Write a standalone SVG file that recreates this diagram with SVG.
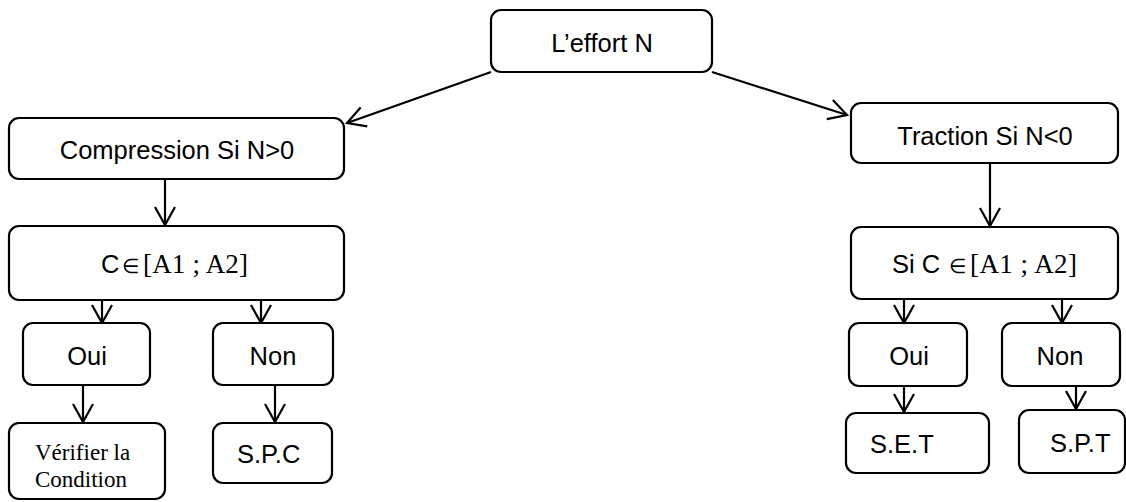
<svg xmlns="http://www.w3.org/2000/svg" width="1126" height="502" viewBox="0 0 1126 502">
  <style>
    .box { fill: #ffffff; stroke: #000000; stroke-width: 2.2; }
    .lbl { font-family: "Liberation Sans", Arial, sans-serif; font-size: 25.5px; fill: #000000; }
    .math { font-family: "Liberation Serif", "Times New Roman", serif; font-size: 27px; }
    .elem { font-size: 20px; }
    .serif { font-family: "Liberation Serif", "Times New Roman", serif; font-size: 23px; fill: #000000; }
    .edge { fill: none; stroke: #000000; stroke-width: 2.2; marker-end: url(#open); }
  </style>
  <defs>
    <!-- open V arrowhead, drawn in user units -->
    <marker id="open" markerUnits="userSpaceOnUse" markerWidth="24" markerHeight="24" viewBox="-21 -12 24 24" refX="0" refY="0" orient="auto" overflow="visible">
      <path d="M-18,-10 L0,0 L-18,10" fill="none" stroke="#000000" stroke-width="2.2" stroke-linejoin="miter"/>
    </marker>
  </defs>
  <rect width="1126" height="502" fill="#ffffff"/>

  <g id="connectors">
    <line class="edge" x1="491" y1="72" x2="347" y2="123"/>
    <line class="edge" x1="712" y1="72" x2="847" y2="115"/>
    <line class="edge" x1="165" y1="179" x2="165" y2="225"/>
    <line class="edge" x1="102" y1="300" x2="102" y2="323"/>
    <line class="edge" x1="261" y1="300" x2="261" y2="323"/>
    <line class="edge" x1="83" y1="385" x2="83" y2="422"/>
    <line class="edge" x1="275" y1="385" x2="275" y2="422"/>
    <line class="edge" x1="990" y1="163" x2="990" y2="226"/>
    <line class="edge" x1="904" y1="299" x2="904" y2="323"/>
    <line class="edge" x1="1062" y1="299" x2="1062" y2="323"/>
    <line class="edge" x1="904" y1="386" x2="904" y2="412"/>
    <line class="edge" x1="1076" y1="386" x2="1076" y2="409"/>
  </g>

  <g id="effort">
    <rect class="box" x="491" y="10" width="221" height="62" rx="10"/>
    <text class="lbl" x="602" y="52" text-anchor="middle">L’effort N</text>
  </g>

  <g id="compression">
    <rect class="box" x="9" y="118" width="335" height="61" rx="10"/>
    <text class="lbl" x="177" y="159" text-anchor="middle">Compression Si N&gt;0</text>
  </g>

  <g id="c-interval">
    <rect class="box" x="9" y="226" width="335" height="74" rx="10"/>
    <text class="lbl" x="101" y="273">C<tspan class="elem" x="122">∈</tspan><tspan class="math" x="143" textLength="105">[A1 ; A2]</tspan></text>
  </g>

  <g id="oui-left">
    <rect class="box" x="23" y="323" width="127" height="62" rx="10"/>
    <text class="lbl" x="87" y="365" text-anchor="middle">Oui</text>
  </g>

  <g id="non-left">
    <rect class="box" x="213" y="323" width="120" height="62" rx="10"/>
    <text class="lbl" x="273" y="365" text-anchor="middle">Non</text>
  </g>

  <g id="verifier">
    <rect class="box" x="9" y="423" width="156" height="76" rx="10"/>
    <text class="serif" x="35" y="460">Vérifier la</text>
    <text class="serif" x="35" y="487">Condition</text>
  </g>

  <g id="spc">
    <rect class="box" x="213" y="423" width="119" height="60" rx="10"/>
    <text class="lbl" x="237" y="463">S.P.C</text>
  </g>

  <g id="traction">
    <rect class="box" x="851" y="103" width="267" height="60" rx="10"/>
    <text class="lbl" x="985" y="145" text-anchor="middle">Traction Si N&lt;0</text>
  </g>

  <g id="si-c-interval">
    <rect class="box" x="851" y="227" width="267" height="72" rx="10"/>
    <text class="lbl" x="892" y="273">Si C<tspan class="elem" x="949">∈</tspan><tspan class="math" x="970" textLength="107">[A1 ; A2]</tspan></text>
  </g>

  <g id="oui-right">
    <rect class="box" x="849" y="323" width="118" height="63" rx="10"/>
    <text class="lbl" x="909" y="365" text-anchor="middle">Oui</text>
  </g>

  <g id="non-right">
    <rect class="box" x="1002" y="323" width="118" height="63" rx="10"/>
    <text class="lbl" x="1060" y="365" text-anchor="middle">Non</text>
  </g>

  <g id="set">
    <rect class="box" x="846" y="413" width="143" height="60" rx="10"/>
    <text class="lbl" x="870" y="453">S.E.T</text>
  </g>

  <g id="spt">
    <rect class="box" x="1019" y="410" width="106" height="63" rx="10"/>
    <text class="lbl" x="1050" y="452">S.P.T</text>
  </g>
</svg>
